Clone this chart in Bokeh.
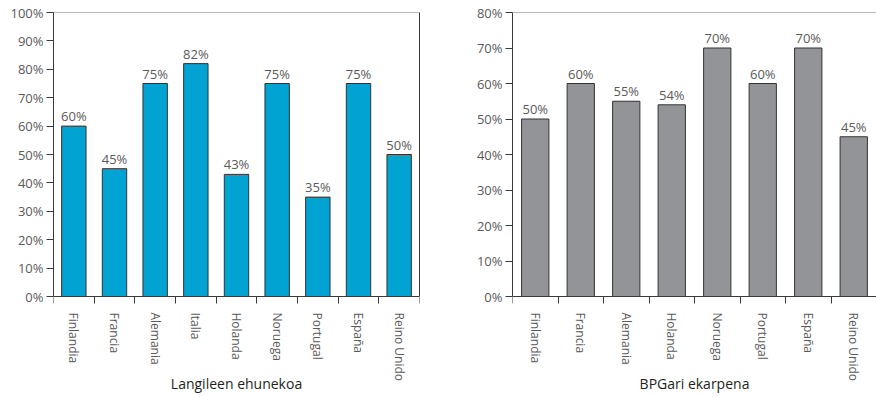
from bokeh.plotting import figure
from bokeh.layouts import row
from bokeh.models import (FixedTicker, PrintfTickFormatter, ColumnDataSource,
                          Span, LinearAxis)
from bokeh.core.properties import value
from bokeh.embed import file_html
from bokeh.resources import INLINE

# ---- data ----
cats_left = ["Finlandia", "Francia", "Alemania", "Italia", "Holanda",
             "Noruega", "Portugal", "España", "Reino Unido"]
vals_left = [60, 45, 75, 82, 43, 75, 35, 75, 50]
title_left = "Langileen ehunekoa"
yticks_left = [0, 10, 20, 30, 40, 50, 60, 70, 80, 90, 100]

cats_right = ["Finlandia", "Francia", "Alemania", "Holanda", "Noruega",
              "Portugal", "España", "Reino Unido"]
vals_right = [50, 60, 55, 54, 70, 60, 70, 45]
title_right = "BPGari ekarpena"
yticks_right = [0, 10, 20, 30, 40, 50, 60, 70, 80]

FONT = "Open Sans"
TXT = "#5a5a5a"
AX = "#3a3a3a"

H = 397
TOP = 12          # frame top (px)
AXIS_Y = 296      # pixel row of the value 0
TITLE_Y = 383     # pixel row of the axis titles


def make(cats, vals, yticks, title, color, width, bl, br, outline):
    n = len(cats)
    ymax = yticks[-1]
    plot_px = AXIS_Y - TOP
    below_px = H - AXIS_Y
    ymin = -ymax * below_px / plot_px
    p = figure(width=width, height=H, x_range=(0, n), y_range=(ymin, ymax),
               output_backend="svg", toolbar_location=None,
               min_border_left=bl, min_border_right=br,
               min_border_top=TOP, min_border_bottom=0)
    p.background_fill_color = "white"
    p.border_fill_color = "white"
    p.outline_line_color = None
    p.xgrid.visible = False
    p.ygrid.visible = False

    p.add_layout(Span(location=ymax, dimension="width",
                      line_color="#777777", line_width=1))
    if outline:
        ra = LinearAxis(ticker=FixedTicker(ticks=[]), bounds=(0, ymax),
                        axis_line_color=AX, major_tick_out=0, major_tick_in=0,
                        minor_tick_out=0, minor_tick_in=0)
        p.add_layout(ra, "right")

    xs = [i + 0.5 for i in range(n)]
    src = ColumnDataSource(dict(x=xs, top=vals, lab=[f"{v}%" for v in vals]))
    p.vbar(x="x", top="top", bottom=0, width=0.6, source=src,
           fill_color=color, line_color="#333333", line_width=1)
    p.text(x="x", y="top", text="lab", source=src, text_align="center",
           text_baseline="bottom", y_offset=-1,
           text_font=value(FONT), text_font_size="13px", text_color=TXT)

    # x axis fixed at value 0
    xa = p.xaxis[0]
    xa.fixed_location = 0
    xa.ticker = FixedTicker(ticks=xs, minor_ticks=list(range(n + 1)))
    xa.major_label_overrides = {x: c for x, c in zip(xs, cats)}
    xa.major_label_orientation = "vertical"
    xa.major_tick_out = 0
    xa.major_tick_in = 0
    xa.minor_tick_out = 7
    xa.minor_tick_in = 0
    xa.minor_tick_line_color = AX
    xa.major_label_standoff = 9
    xa.major_label_text_font = FONT
    xa.major_label_text_font_size = "12px"
    xa.major_label_text_color = TXT
    xa.axis_line_color = AX

    # axis title
    tsrc = ColumnDataSource(dict(x=[n / 2], y=[0], t=[title]))
    p.text(x="x", y="y", text="t", source=tsrc, text_align="center",
           text_baseline="middle", y_offset=TITLE_Y - AXIS_Y,
           text_font=value(FONT), text_font_size="14px", text_color="#231f20")

    # y axis
    ya = p.yaxis[0]
    ya.bounds = (0, ymax)
    ya.ticker = FixedTicker(ticks=yticks)
    ya.formatter = PrintfTickFormatter(format="%d%%")
    ya.major_tick_out = 7
    ya.major_tick_in = 0
    ya.minor_tick_out = 0
    ya.minor_tick_in = 0
    ya.major_tick_line_color = AX
    ya.axis_line_color = AX
    ya.major_label_standoff = 3
    ya.major_label_text_font = FONT
    ya.major_label_text_font_size = "13px"
    ya.major_label_text_color = TXT
    return p


p1 = make(cats_left, vals_left, yticks_left, title_left, "#00a3d1", 440, 53, 21, True)
p2 = make(cats_right, vals_right, yticks_right, title_right, "#929497", 436, 72, 0, False)

layout = row(p1, p2)
open("out.html", "w").write(file_html(layout, INLINE))
